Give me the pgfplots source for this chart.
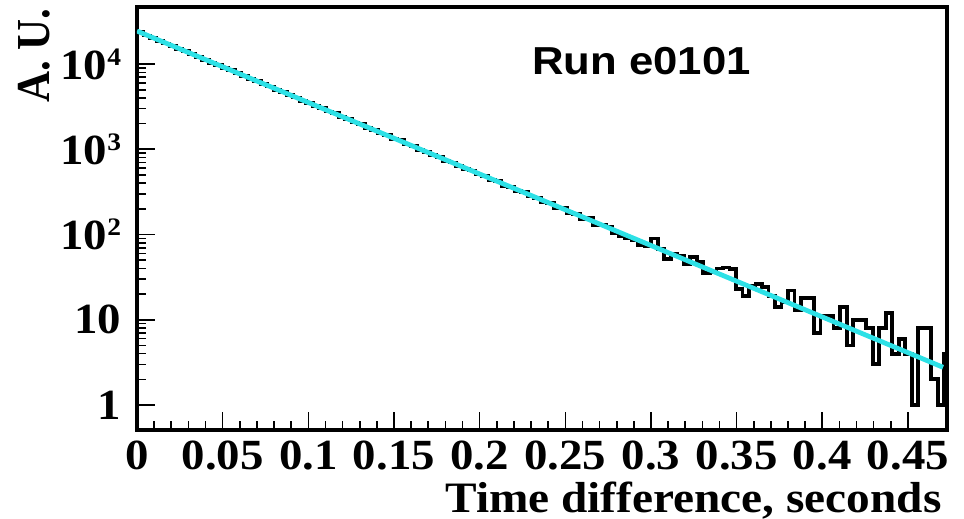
\documentclass[border=0pt]{standalone}
\usepackage{fontspec}
\setmainfont{Liberation Serif}[FakeStretch=1.09]
\newfontfamily\plainserif{Liberation Serif}
\newfontfamily\titlefont{Liberation Sans}[FakeStretch=1.12]
\usepackage{graphicx}
\usepackage{pgfplots}
\usepackage{pgfplotstable}
\pgfplotsset{compat=1.18}
\definecolor{fitcyan}{RGB}{45,225,230}
\newcommand{\supe}[1]{\raisebox{7bp}{\fontsize{12.6bp}{13bp}\selectfont #1}}

\pgfplotstableread{
y
23600
21600
20400
18800
17400
16350
15050
14100
13000
12200
11250
10400
9800
9000
8480
7780
7300
6700
6320
5800
5460
4980
4720
4300
4060
3720
3520
3200
3050
2770
2640
2390
2280
2060
1970
1780
1700
1530
1480
1320
1280
1140
1100
980
935
850
810
735
700
640
590
565
505
490
440
425
375
365
325
315
280
270
238
236
205
205
178
176
152
155
130
128
124
104
95
92
85
75
74
90
68
52
60
56
45
54
48
35
36
40
41
39
23
19
25
26
24
19
14
16
22
13
18
18
7
11
11
8
14
5
10
10
8
3
8
12
4
6
4
1
8
8
2
1
4
4
}\histdata

\begin{document}
\begin{tikzpicture}
\useasboundingbox (-68.5bp,-44.5bp) rectangle (413.5bp,215bp);
\begin{axis}[
  scale only axis, width=405bp, height=211.5bp,
  ymode=log, xmin=0, xmax=0.4728, ymin=0.509, ymax=46700,
  axis line style={line width=1.6bp},
  tick align=inside, tick pos=left,
  major tick length=9bp, minor tick length=4.5bp,
  every tick/.style={line width=0.8bp, black},
  xtick={0,0.05,0.1,0.15,0.2,0.25,0.3,0.35,0.4,0.45},
  xticklabels={0,0.05,0.1,0.15,0.2,0.25,0.3,0.35,0.4,0.45},
  minor x tick num=4,
  ytick={1,10,100,1000,10000},
  yticklabels={1,10,10\supe{2},10\supe{3},10\supe{4}},
  tick label style={font=\fontsize{21.5bp}{24bp}\selectfont\bfseries},
  xticklabel style={anchor=base, inner sep=0pt, yshift=-19.5bp},
  yticklabel style={anchor=east, inner sep=0pt, xshift=-7.75bp},
]
\addplot[const plot mark left, black, line width=1.9bp]
  table[x expr=\coordindex*0.0038, y=y] {\histdata};
\addplot[fitcyan, line width=2.4bp] coordinates {
  (0,24400) (0.1,3540) (0.2,513) (0.3,74.4) (0.4,10.8) (0.4705,2.77)
};
\end{axis}
\node[rotate=90, anchor=base east, inner sep=0pt,
  font=\plainserif\fontsize{21.5bp}{24bp}\selectfont\bfseries]
  at (-43.5bp,211bp) {\scalebox{1}[1.1]{A. U.}};
\node[anchor=base west, inner sep=0pt,
  font=\titlefont\fontsize{19.5bp}{22bp}\selectfont\bfseries]
  at (197.5bp,177.5bp) {Run e0101};
\node[anchor=base east, inner sep=0pt,
  font=\fontsize{21.7bp}{24bp}\selectfont\bfseries]
  at (402.5bp,-41bp) {Time difference, seconds};
\end{tikzpicture}
\end{document}
